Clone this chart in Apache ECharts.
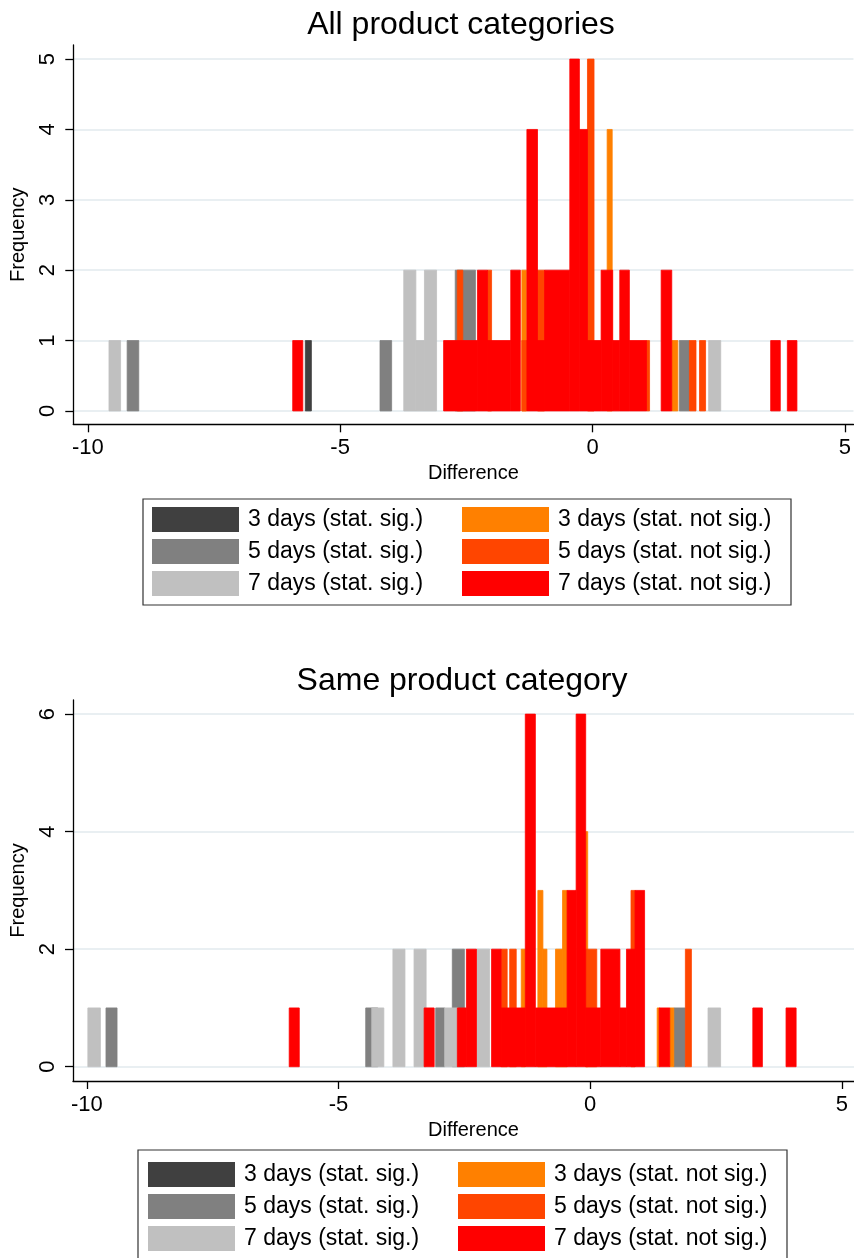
<!DOCTYPE html>
<html>
<head>
<meta charset="utf-8">
<script src="https://cdn.jsdelivr.net/npm/echarts@6/dist/echarts.min.js"></script>
<style>
html,body{margin:0;padding:0;background:#fff;}
#chart{width:854px;height:1258px;}
</style>
</head>
<body>
<div id="chart"></div>
<script>
// ---- Data ----
const titles = ['All product categories', 'Same product category'];
const xAxisTitle = 'Difference';
const yAxisTitle = 'Frequency';
const xTicks = [-10, -5, 0, 5];
const topYTicks = [0, 1, 2, 3, 4, 5];
const bottomYTicks = [0, 2, 4, 6];
const seriesNames = [
  '3 days (stat. sig.)', '5 days (stat. sig.)', '7 days (stat. sig.)',
  '3 days (stat. not sig.)', '5 days (stat. not sig.)', '7 days (stat. not sig.)'
];
// bins: [from, to, frequency]
const topSig3 = [[-5.69, -5.57, 1]];
const topSig5 = [[-9.22, -8.99, 1], [-4.21, -3.98, 1], [-2.72, -2.32, 2], [1.72, 1.92, 1]];
const topSig7 = [[-9.58, -9.35, 1], [-3.74, -3.50, 2], [-3.50, -3.33, 1], [-3.33, -3.09, 2], [2.30, 2.54, 1]];
const topNot3 = [[-1.40, -1.31, 2], [0.29, 0.39, 4], [1.57, 1.69, 1]];
const topNot5 = [[-2.68, -2.57, 2], [-2.08, -2.00, 2], [-1.40, -1.30, 1], [-1.09, -0.95, 2],
                 [-0.10, 0.03, 5], [1.07, 1.13, 1], [1.92, 2.05, 1], [2.12, 2.24, 1]];
const topNot7 = [[-5.94, -5.74, 1], [-2.95, -2.28, 1], [-2.28, -2.08, 2], [-2.08, -1.62, 1], [-1.62, -1.43, 2],
                 [-1.30, -1.09, 4], [-1.09, -0.95, 1], [-0.95, -0.45, 2], [-0.45, -0.26, 5], [-0.26, -0.10, 4],
                 [-0.10, 0.17, 1], [0.17, 0.40, 2], [0.40, 0.54, 1], [0.54, 0.73, 2], [0.73, 1.07, 1],
                 [1.36, 1.57, 2], [3.53, 3.72, 1], [3.86, 4.05, 1]];
const botSig3 = [];
const botSig5 = [[-9.62, -9.40, 1], [-4.46, -4.22, 1], [-3.07, -2.89, 1], [-2.74, -2.50, 2], [1.66, 1.89, 1]];
const botSig7 = [[-9.98, -9.73, 1], [-4.34, -4.10, 1], [-3.92, -3.68, 2], [-3.50, -3.26, 2], [-2.89, -2.62, 1],
                 [-2.25, -2.00, 2], [2.34, 2.59, 1]];
const botNot3 = [[-1.37, -1.29, 2], [-1.04, -0.94, 3], [-0.94, -0.86, 2], [-0.69, -0.55, 2], [-0.55, -0.46, 3],
                 [-0.09, -0.05, 4], [1.33, 1.38, 1], [1.58, 1.66, 1]];
const botNot5 = [[-1.77, -1.65, 2], [-1.60, -1.47, 2], [-0.09, 0.13, 2], [0.81, 0.89, 3], [1.89, 2.01, 2]];
const botNot7 = [[-5.98, -5.78, 1], [-3.30, -3.10, 1], [-2.64, -2.46, 1], [-2.46, -2.26, 2], [-1.96, -1.77, 2],
                 [-1.77, -1.29, 1], [-1.29, -1.09, 6], [-1.09, -0.46, 1], [-0.46, -0.28, 3], [-0.28, -0.09, 6],
                 [-0.09, 0.21, 1], [0.21, 0.59, 2], [0.59, 0.72, 1], [0.72, 0.89, 2], [0.89, 1.08, 3],
                 [1.37, 1.58, 1], [3.23, 3.42, 1], [3.89, 4.09, 1]];

// ---- Styling ----
const colors = ['#404040', '#808080', '#c0c0c0', '#ff8000', '#ff4500', '#ff0000'];
const FONT = 'Liberation Sans, Arial, sans-serif';
const gridColor = '#e2eaee';

function renderBin(params, api) {
  const a = api.coord([api.value(0), api.value(2)]);
  const b = api.coord([api.value(1), 0]);
  const c = api.visual('color');
  return {
    type: 'rect',
    shape: { x: a[0], y: a[1], width: b[0] - a[0], height: b[1] - a[1] },
    style: { fill: c, stroke: c, lineWidth: 0.8 }
  };
}

function makeSeries(datasets, idx) {
  return datasets.map((d, i) => ({
    type: 'custom',
    name: seriesNames[i],
    xAxisIndex: idx, yAxisIndex: idx,
    data: d,
    encode: { x: [0, 1], y: 2 },
    itemStyle: { color: colors[i] },
    renderItem: renderBin,
    silent: true
  }));
}

function xAxisCfg(idx, min, max) {
  return {
    type: 'value', gridIndex: idx, min: min, max: max,
    name: xAxisTitle, nameLocation: 'middle', nameGap: 39,
    nameTextStyle: { fontFamily: FONT, fontSize: 20, color: '#000', padding: [0, 0, 0, 20] },
    axisLine: { show: true, onZero: false, lineStyle: { color: '#000', width: 1.3 } },
    axisTick: { show: true, length: 8, customValues: xTicks, lineStyle: { color: '#000', width: 1.3 } },
    axisLabel: { customValues: xTicks, fontFamily: FONT, fontSize: 22, color: '#000', margin: 13 },
    splitLine: { show: false }
  };
}
function yAxisCfg(idx, min, max, ticks) {
  return {
    type: 'value', gridIndex: idx, min: min, max: max,
    name: yAxisTitle, nameLocation: 'middle', nameGap: 45, nameRotate: 90,
    nameTextStyle: { fontFamily: FONT, fontSize: 20, color: '#000' },
    axisLine: { show: true, onZero: false, lineStyle: { color: '#000', width: 1.3 } },
    axisTick: { show: true, length: 8, customValues: ticks, lineStyle: { color: '#000', width: 1.3 } },
    axisLabel: { customValues: ticks, rotate: 90, fontFamily: FONT, fontSize: 22, color: '#000', margin: 14 },
    splitLine: { show: true, lineStyle: { color: gridColor, width: 1.5 } }
  };
}
function legendCfg(names, left, top) {
  return {
    orient: 'vertical', left: left, top: top, padding: 0,
    itemWidth: 87, itemHeight: 25, itemGap: 7,
    icon: 'rect', selectedMode: false,
    data: names,
    textStyle: { fontFamily: FONT, fontSize: 23, color: '#000', padding: [0, 0, 0, 4] }
  };
}

const chart = echarts.init(document.getElementById('chart'), null, { renderer: 'canvas' });
chart.setOption({
  animation: false,
  backgroundColor: '#fff',
  title: [
    { text: titles[0], left: 456, top: 4, textAlign: 'center',
      textStyle: { fontFamily: FONT, fontSize: 32, fontWeight: 'normal', color: '#000' } },
    { text: titles[1], left: 457, top: 660, textAlign: 'center',
      textStyle: { fontFamily: FONT, fontSize: 32, fontWeight: 'normal', color: '#000' } }
  ],
  grid: [
    { left: 73.3, top: 45, right: 0, height: 379.3 },
    { left: 70, top: 700, right: 0, height: 381 }
  ],
  xAxis: [xAxisCfg(0, -10.287, 5.17), xAxisCfg(1, -10.275, 5.24)],
  yAxis: [yAxisCfg(0, -0.19, 5.2, topYTicks), yAxisCfg(1, -0.243, 6.24, bottomYTicks)],
  legend: [
    legendCfg(seriesNames.slice(0, 3), 152, 507),
    legendCfg(seriesNames.slice(3, 6), 462, 507),
    legendCfg(seriesNames.slice(0, 3), 148, 1162),
    legendCfg(seriesNames.slice(3, 6), 458, 1162)
  ],
  graphic: [
    { type: 'rect', shape: { x: 143, y: 499, width: 648, height: 106 }, style: { fill: 'none', stroke: '#333', lineWidth: 1.2 }, silent: true },
    { type: 'rect', shape: { x: 138, y: 1150, width: 649, height: 120 }, style: { fill: 'none', stroke: '#333', lineWidth: 1.2 }, silent: true }
  ],
  series: makeSeries([topSig3, topSig5, topSig7, topNot3, topNot5, topNot7], 0)
    .concat(makeSeries([botSig3, botSig5, botSig7, botNot3, botNot5, botNot7], 1))
});
</script>
</body>
</html>
